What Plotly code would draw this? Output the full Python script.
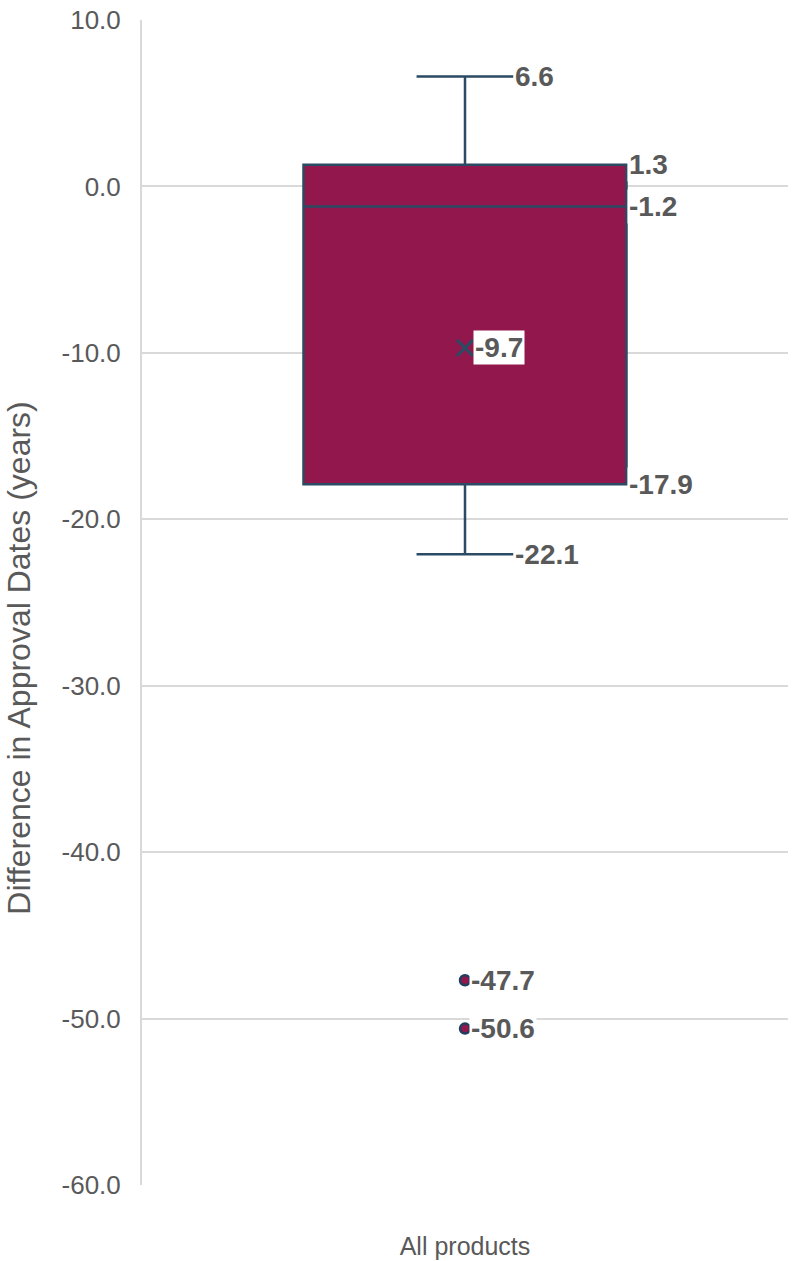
import plotly.graph_objects as go

category = ["All products"]
upper_whisker = [6.6]
q3 = [1.3]
median = [-1.2]
mean = [-9.7]
q1 = [-17.9]
lower_whisker = [-22.1]
outliers = [-47.7, -50.6]
y_ticks = [10, 0, -10, -20, -30, -40, -50, -60]

BOX_FILL = "#92174D"
BOX_LINE = "#2B4A63"
TXT = "#595959"
GRID = "#D9D9D9"
WW = 0.3
HALF = 0.25

fig = go.Figure()
fig.add_trace(go.Box(
    x=category, q1=q1, median=median, q3=q3,
    lowerfence=lower_whisker, upperfence=upper_whisker,
    fillcolor=BOX_FILL, line=dict(color=BOX_LINE, width=2.5),
    whiskerwidth=WW, boxpoints=False, showlegend=False,
))
fig.add_trace(go.Scatter(
    x=category, y=mean, mode="markers",
    marker=dict(symbol="x-thin", size=16, line=dict(color=BOX_LINE, width=3)),
    showlegend=False,
))
fig.add_trace(go.Scatter(
    x=category * len(outliers), y=outliers, mode="markers",
    marker=dict(symbol="circle", size=10, color=BOX_FILL, line=dict(color="#1F3F5F", width=2.5)),
    showlegend=False,
))

lab_font = dict(family="Liberation Sans", size=28, color=TXT, weight="bold")

def lab(xv, yv, text):
    fig.add_annotation(x=xv, y=yv, xref="x", yref="y", text=text, showarrow=False,
                       xanchor="left", yanchor="middle", font=lab_font,
                       bgcolor="white", borderpad=1)

cap = HALF * WW
lab(cap, upper_whisker[0], f"{upper_whisker[0]:.1f}")
lab(HALF, q3[0], f"{q3[0]:.1f}")
lab(HALF, median[0], f"{median[0]:.1f}")
lab(0.012, mean[0], f"{mean[0]:.1f}")
lab(HALF, q1[0], f"{q1[0]:.1f}")
lab(cap, lower_whisker[0], f"{lower_whisker[0]:.1f}")
for v in outliers:
    lab(0.006, v, f"{v:.1f}")

fig.add_annotation(x=-0.19, y=0.452, xref="paper", yref="paper",
                   text="Difference in Approval Dates (years)", textangle=-90,
                   showarrow=False, xanchor="center", yanchor="middle",
                   font=dict(family="Liberation Sans", size=32, color=TXT))

fig.update_layout(
    width=800, height=1261,
    margin=dict(l=142, r=12, t=20, b=76),
    plot_bgcolor="white", paper_bgcolor="white",
    boxgap=0.5, boxgroupgap=0,
    font=dict(family="Liberation Sans", color=TXT),
)
fig.update_yaxes(
    range=[-60, 10], tickvals=y_ticks, ticktext=[f"{v:.1f}" for v in y_ticks],
    showgrid=True, gridcolor=GRID, gridwidth=2, zeroline=False,
    showline=True, linecolor=GRID, linewidth=2, automargin=False,
    tickfont=dict(size=26, color=TXT), ticklabelstandoff=14,
)
fig.update_xaxes(
    range=[-0.5, 0.5], showgrid=False, zeroline=False, showline=False,
    automargin=False,
    tickfont=dict(size=25, color=TXT), ticklabelstandoff=44,
)

fig.write_html("out.html")
